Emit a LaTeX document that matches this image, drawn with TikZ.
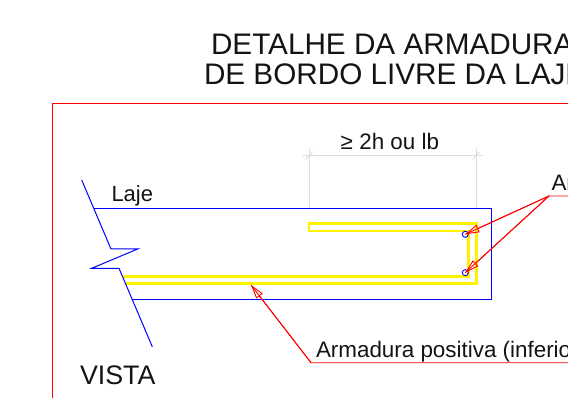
\documentclass[tikz,border=0pt]{standalone}
\usepackage{fontspec}
\setmainfont{Liberation Sans}
\usetikzlibrary{arrows.meta}
\tikzset{
  x=1pt,y=-1pt,
  txt/.style={inner sep=0pt,outer sep=0pt,anchor=base west,text=black!92},
  bluel/.style={draw=blue,line width=1pt,line join=miter},
  redl/.style={draw=red,line width=0.9pt},
  rebar/.style={draw=yellow,line width=2.5pt,line join=miter},
  dim/.style={draw=black!13,line width=0.9pt},
  bar/.style={circle,draw=blue,line width=0.9pt,minimum size=6pt,inner sep=0pt},
  hd/.style={redl,-{Triangle[open,length=14pt,width=8pt,line width=0.9pt]}},
}
\begin{document}
\begin{tikzpicture}
\useasboundingbox (0,0) rectangle (568,398);
\fill[white] (0,0) rectangle (568,398);
% titles
\node[txt,font=\fontsize{29.7}{30}\selectfont] (t1) at (211,54.3) {DETALHE DA ARMADURA};
\node[txt,font=\fontsize{29.7}{30}\selectfont] (t2) at (204,84.3) {DE BORDO LIVRE DA LAJE};
% frame
\coordinate (fa) at (52,398); \coordinate (fb) at (52,103.3); \coordinate (fc) at (568,103.3);
\draw[redl] (fa) -- (fb) -- (fc);
% dimension
\coordinate (e1) at (309,208.3); \coordinate (e2) at (476,208.3);
\draw[dim] (e1) -- (309,148.5) (e2) -- (476,148.5);
\draw[dim] (302,155.7) -- (483,155.7);
\draw[dim] (305.5,159.5) -- (312.5,152) (472.5,159.5) -- (479.5,152);
\node[txt,font=\fontsize{22.4}{24}\selectfont] (dt) at (340.5,149.3) {≥\hspace{6.5pt}2h ou lb};
% rebar
\draw[rebar] (123,276.3) -- (468.3,276.3) -- (468.3,230.8) -- (308.8,230.8) -- (308.8,223.5) -- (476.6,223.5) -- (476.6,283.6) -- (126,283.6);
% slab
\draw[bluel] (94,208.3) -- (491.7,208.3) -- (491.7,299.2) -- (132.3,299.2);
\draw[bluel] (81.7,180) -- (111,249) -- (137.7,249) -- (91.7,268.3) -- (119,268.3) -- (152.3,346.7);
% bars
\node[bar] (c1) at (465.3,234.3) {};
\node[bar] (c2) at (465.3,272.7) {};
% leaders
\coordinate (ar) at (549,196); \coordinate (ar2) at (568,196);
\coordinate (lp) at (311,362.7); \coordinate (lp2) at (568,362.7); \coordinate (lt) at (251,285);
\draw[redl] (ar2) -- (ar) -- (c1.center);
\draw[redl] (ar) -- (c2.center);
\draw[redl] (lp2) -- (lp) -- (lt);
\draw[hd] (ar) -- (c1.center);
\draw[hd] (ar) -- (c2.center);
\draw[hd] (lp) -- (lt);
% labels
\node[txt,font=\fontsize{22}{24}\selectfont] (laje) at (111.5,201.3) {Laje};
\node[txt,font=\fontsize{26.8}{28}\selectfont] (vista) at (80,384) {VISTA};
\node[txt,font=\fontsize{22.4}{24}\selectfont] (ap) at (316,357) {Armadura positiva (inferio};
\node[txt,font=\fontsize{22.4}{24}\selectfont] (an) at (551.5,190.7) {Ar};
\end{tikzpicture}
\end{document}
